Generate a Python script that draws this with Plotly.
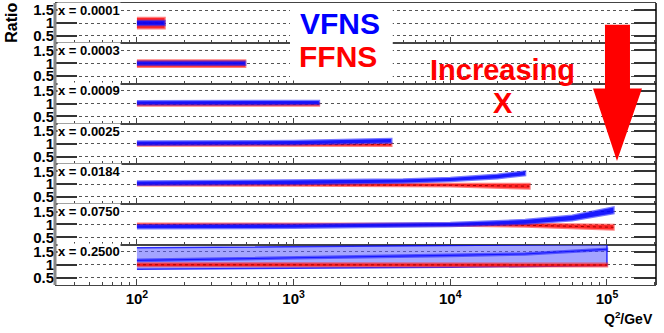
import plotly.graph_objects as go
from plotly.subplots import make_subplots

# x bins, one panel each (top to bottom)
x_labels = ["x = 0.0001", "x = 0.0003", "x = 0.0009", "x = 0.0025",
            "x = 0.0184", "x = 0.0750", "x = 0.2500"]

# VFNS ratio bands: Q2 points, central value, half width
vfns_q2 = [
    [100, 150],
    [100, 490],
    [100, 1450],
    [100, 1000, 4200],
    [100, 1000, 5000, 10000, 20000, 30000],
    [100, 1000, 10000, 30000, 60000, 110000],
    [100, 1000, 10000, 30000, 100000],
]
vfns_mid = [
    [1.0, 1.0],
    [1.0, 1.0],
    [1.03, 1.04],
    [1.03, 1.05, 1.12],
    [1.04, 1.07, 1.12, 1.18, 1.30, 1.42],
    [0.91, 0.93, 1.0, 1.10, 1.25, 1.55],
    [1.17, 1.27, 1.36, 1.42, 1.60],
]
vfns_err = [
    [0.08, 0.08],
    [0.06, 0.06],
    [0.06, 0.06],
    [0.06, 0.06, 0.07],
    [0.06, 0.06, 0.06, 0.06, 0.07, 0.07],
    [0.06, 0.06, 0.06, 0.07, 0.09, 0.11],
    [0.02, 0.02, 0.02, 0.02, 0.02],
]
# x = 0.25 wide VFNS uncertainty envelope
vfns_env_lo = [0.82, 0.86, 0.90, 0.93, 0.97]
vfns_env_hi = [1.66, 1.70, 1.74, 1.77, 1.80]

# FFNS ratio bands
ffns_q2 = [
    [100, 150],
    [100, 490],
    [100, 1450],
    [100, 1000, 4200],
    [100, 1000, 10000, 32000],
    [100, 1000, 10000, 30000, 60000, 110000],
    [100, 1000, 10000, 100000],
]
ffns_mid = [
    [1.0, 1.0],
    [0.99, 0.99],
    [0.97, 0.97],
    [0.98, 0.98, 0.97],
    [0.99, 0.98, 0.96, 0.92],
    [1.0, 1.0, 0.99, 0.97, 0.93, 0.89],
    [1.0, 1.0, 1.0, 0.99],
]
ffns_err = [
    [0.2, 0.2],
    [0.12, 0.12],
    [0.04, 0.04],
    [0.04, 0.04, 0.04],
    [0.03, 0.03, 0.04, 0.09],
    [0.03, 0.03, 0.03, 0.05, 0.07, 0.09],
    [0.05, 0.05, 0.05, 0.05],
]

n = len(x_labels)
fig = make_subplots(rows=n, cols=1, shared_xaxes=True, vertical_spacing=0)


def band(q, mid, err, fillcol, linecol, row, lw=2.5):
    hi = [m + e for m, e in zip(mid, err)]
    lo = [m - e for m, e in zip(mid, err)]
    fig.add_trace(go.Scatter(x=q + q[::-1], y=hi + lo[::-1], fill="toself",
                             fillcolor=fillcol, mode="lines",
                             line=dict(color=linecol, width=lw),
                             showlegend=False, hoverinfo="skip"), row=row, col=1)


for i in range(n):
    r = i + 1
    if i == n - 1:
        q = vfns_q2[i]
        fig.add_trace(go.Scatter(x=q + q[::-1], y=vfns_env_hi + vfns_env_lo[::-1],
                                 fill="toself", fillcolor="rgba(90,90,255,0.55)",
                                 mode="lines", line=dict(color="rgba(0,0,255,0.8)", width=1.5),
                                 showlegend=False, hoverinfo="skip"), row=r, col=1)
    band(ffns_q2[i], ffns_mid[i], ffns_err[i], "rgba(255,0,0,0.85)", "rgba(255,40,40,0.6)", r)
    fig.add_trace(go.Scatter(x=ffns_q2[i], y=ffns_mid[i], mode="lines",
                             line=dict(color="#a00000", width=1, dash="dot"),
                             showlegend=False, hoverinfo="skip"), row=r, col=1)
    band(vfns_q2[i], vfns_mid[i], vfns_err[i], "rgba(0,0,255,0.9)", "rgba(30,30,255,0.6)", r)

    fig.add_annotation(text="<b>" + x_labels[i] + "</b>", xref=f"x{r if r > 1 else ''} domain",
                       yref=f"y{r if r > 1 else ''}", x=0.003, y=1.5, xanchor="left",
                       yanchor="middle", showarrow=False, bgcolor="white",
                       font=dict(size=13, color="black", family="Liberation Sans"), borderpad=0)

fig.update_yaxes(range=[0.21, 1.78], tickvals=[0.5, 1, 1.5], ticktext=["0.5", "1", "1.5"],
                 showgrid=True, gridcolor="#555", griddash="dot", gridwidth=1,
                 ticks="inside", ticklen=22, tickcolor="#333", tickwidth=1.5,
                 mirror="ticks", showline=False, zeroline=False, ticklabeloverflow="allow",
                 tickfont=dict(size=15, color="black", family="Liberation Sans", weight="bold"))
fig.update_xaxes(type="log", range=[1.477, 5.313], showline=True, mirror=True,
                 linecolor="#444", linewidth=1, showgrid=False, zeroline=False,
                 ticks="inside", ticklen=6, tickcolor="#444",
                 tickvals=[100, 1000, 10000, 100000],
                 minor=dict(ticks="inside", ticklen=3, tickcolor="#444", dtick="D1"),
                 tickfont=dict(size=15, color="black", family="Liberation Sans", weight="bold"))
fig.update_xaxes(ticktext=["10<sup>2</sup>", "10<sup>3</sup>", "10<sup>4</sup>", "10<sup>5</sup>"],
                 row=n, col=1)

# axis frame
fig.add_shape(type="line", xref="paper", yref="paper", x0=0, x1=0, y0=0, y1=1,
              line=dict(color="#888", width=3))
fig.add_shape(type="line", xref="paper", yref="paper", x0=1, x1=1, y0=0, y1=1,
              line=dict(color="black", width=1.5))

# legend box
fig.add_shape(type="rect", xref="paper", yref="paper", x0=0.391, x1=0.562, y0=0.725, y1=1.0,
              fillcolor="white", line=dict(width=0), layer="above")
big = dict(showarrow=False, xref="paper", yref="paper", xanchor="center", yanchor="middle")
fig.add_annotation(text="<b>VFNS</b>", x=0.474, y=0.926,
                   font=dict(size=30, color="#0000ff", family="Liberation Sans"), **big)
fig.add_annotation(text="<b>FFNS</b>", x=0.471, y=0.81,
                   font=dict(size=30, color="#ff0000", family="Liberation Sans"), **big)
fig.add_annotation(text="<b>Increasing</b>", x=0.744, y=0.764,
                   font=dict(size=29, color="#ff0000", family="Liberation Sans"), **big)
fig.add_annotation(text="<b>X</b>", x=0.745, y=0.645,
                   font=dict(size=29, color="#ff0000", family="Liberation Sans"), **big)

# big arrow
fig.add_shape(type="path", xref="paper", yref="paper", layer="above",
              path="M 0.9151,0.9225 L 0.9567,0.9225 L 0.9567,0.6972 L 0.9767,0.6972 "
                   "L 0.9351,0.4401 L 0.8952,0.6972 L 0.9151,0.6972 Z",
              fillcolor="#ff0000", line=dict(width=0))

fig.add_annotation(text="<b>Ratio</b>", x=-0.0715, y=0.93, textangle=-90,
                   font=dict(size=16, color="black", family="Liberation Sans"), **big)
fig.add_annotation(text="<b>Q<sup>2</sup>/GeV</b>", x=0.998, y=-0.118,
                   showarrow=False, xref="paper", yref="paper", xanchor="right", yanchor="middle",
                   font=dict(size=14, color="black", family="Liberation Sans"))

fig.update_layout(width=664, height=333, margin=dict(l=55, r=8, t=1, b=48),
                  plot_bgcolor="white", paper_bgcolor="white", showlegend=False)

fig.write_html("out.html", config={"displayModeBar": False},
               post_script="document.body.style.margin='0';")
